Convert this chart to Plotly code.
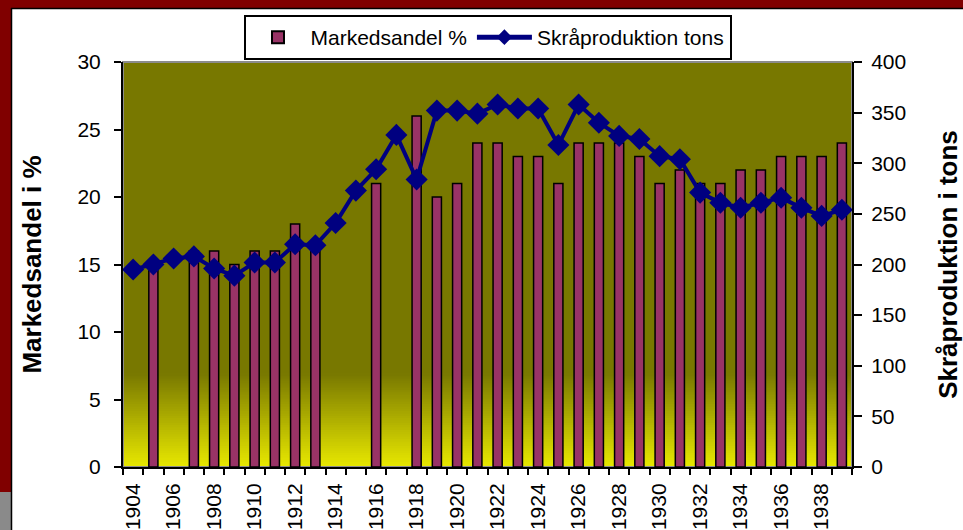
import plotly.graph_objects as go

years = [str(y) for y in range(1904, 1940)]
tick_labels = [y if int(y) % 2 == 0 else "" for y in years]
market_share = [None, 15, None, 16, 16, 15, 16, 16, 18, 16, None, None, 21, None, 26, 20,
                21, 24, 24, 23, 23, 21, 24, 24, 24, 23, 21, 22, 21, 21, 22, 22, 23, 23, 23, 24]
production = [195, 200, 206, 208, 196, 189, 202, 202, 220, 219, 241, 273, 294, 328, 284, 352,
              352, 349, 358, 354, 354, 318, 358, 340, 327, 324, 307, 304, 271, 261, 256, 261,
              266, 256, 248, 254]

FONT = "Liberation Sans, Arial, sans-serif"
W, H = 963, 530
L, R, T, B = 123, 111, 62, 63
PW, PH = W - L - R, H - T - B


def px(x):
    return (x - L) / PW


def py(y):
    return (H - B - y) / PH


fig = go.Figure()
fig.add_trace(go.Bar(
    x=years, y=market_share, name="Markedsandel %",
    marker=dict(color="#993366", line=dict(color="black", width=1.5)),
    yaxis="y", xaxis="x",
))
fig.add_trace(go.Scatter(
    x=years, y=production, name="Skråproduktion tons", mode="lines+markers",
    line=dict(color="#000080", width=4),
    marker=dict(symbol="diamond", size=17, color="#000080"),
    yaxis="y2", xaxis="x",
))

shapes = []
# plot-area gradient background (olive to yellow)
olive = (120, 120, 0)
yellow = (232, 232, 0)
shapes.append(dict(type="rect", xref="paper", yref="paper", x0=0, x1=1, y0=0, y1=1,
                   fillcolor="rgb(120,120,0)", line=dict(width=0), layer="below"))
N = 40
top = 0.23
for i in range(N):
    t0 = top * i / N
    t1 = top * (i + 1) / N + 0.002
    f = (i + 0.5) / N
    c = tuple(round(yellow[k] + (olive[k] - yellow[k]) * f) for k in range(3))
    shapes.append(dict(type="rect", xref="paper", yref="paper", x0=0, x1=1, y0=t0, y1=t1,
                       fillcolor="rgb(%d,%d,%d)" % c, line=dict(width=0), layer="below"))
# gray plot-area border
shapes.append(dict(type="rect", xref="paper", yref="paper", x0=0, x1=1, y0=0, y1=1,
                   line=dict(color="#8c8c8c", width=2), layer="below"))
# outer frame
shapes.append(dict(type="rect", xref="paper", yref="paper", x0=px(0), x1=px(W), y0=py(0), y1=py(8),
                   fillcolor="#800000", line=dict(width=0), layer="above"))
shapes.append(dict(type="rect", xref="paper", yref="paper", x0=px(0), x1=px(11), y0=py(0), y1=py(492),
                   fillcolor="#800000", line=dict(width=0), layer="above"))
shapes.append(dict(type="rect", xref="paper", yref="paper", x0=px(0), x1=px(11), y0=py(492), y1=py(H),
                   fillcolor="#8a8a8a", line=dict(width=0), layer="above"))
shapes.append(dict(type="line", xref="paper", yref="paper", x0=px(11.5), x1=px(11.5), y0=py(8), y1=py(H),
                   line=dict(color="black", width=1.5), layer="above"))
shapes.append(dict(type="line", xref="paper", yref="paper", x0=px(11), x1=px(W), y0=py(8.5), y1=py(8.5),
                   line=dict(color="black", width=1.5), layer="above"))

fig.update_layout(
    width=W, height=H,
    template="none",
    paper_bgcolor="white",
    plot_bgcolor="rgba(0,0,0,0)",
    margin=dict(l=L, r=R, t=T, b=B, pad=0),
    font=dict(family=FONT, size=21, color="black"),
    bargap=0.55,
    showlegend=True,
    legend=dict(orientation="h", x=0.5, xanchor="center", y=py(15), yanchor="top",
                bgcolor="white", bordercolor="black", borderwidth=2,
                font=dict(size=21, family=FONT), itemsizing="constant", itemwidth=55,
                traceorder="normal"),
    xaxis=dict(
        type="category", categoryorder="array", categoryarray=years,
        range=[-0.5, 35.5], tickmode="array", tickvals=years, ticktext=tick_labels,
        tickson="boundaries", ticks="outside", ticklen=6, tickwidth=2, tickcolor="black",
        tickangle=-90, ticklabelstandoff=6,
        showline=True, linecolor="black", linewidth=2, showgrid=False, zeroline=False,
        automargin=False, fixedrange=True,
    ),
    xaxis2=dict(
        overlaying="x", anchor="y", side="bottom", range=[-0.5, 35.5],
        tickmode="array", tickvals=[i - 0.5 for i in range(37)],
        ticks="inside", ticklen=5, tickwidth=2, tickcolor="black",
        showticklabels=False, showline=False, showgrid=False, zeroline=False, automargin=False,
    ),
    yaxis=dict(
        range=[0, 30], tickmode="linear", tick0=0, dtick=5,
        ticks="outside", ticklen=7, tickwidth=2, tickcolor="black", ticklabelstandoff=9,
        showline=True, linecolor="black", linewidth=2, showgrid=False, zeroline=False,
        title=dict(text="<b>Markedsandel i %</b>", font=dict(size=26), standoff=28),
        automargin=False,
    ),
    yaxis2=dict(
        overlaying="y", side="right", anchor="x", range=[0, 400], tickmode="linear", tick0=0, dtick=50,
        ticks="outside", ticklen=8, tickwidth=2, tickcolor="black", ticklabelstandoff=5,
        showline=True, linecolor="black", linewidth=2, showgrid=False, zeroline=False,
        title=dict(text="<b>Skråproduktion i tons</b>", font=dict(size=26), standoff=42),
        automargin=False,
    ),
    yaxis3=dict(
        overlaying="y", side="left", anchor="x", range=[0, 30], tickmode="linear", tick0=0, dtick=5,
        ticks="inside", ticklen=5, tickwidth=2, tickcolor="black",
        showticklabels=False, showline=False, showgrid=False, zeroline=False, automargin=False,
    ),
    yaxis4=dict(
        overlaying="y", side="right", anchor="x", range=[0, 400], tickmode="linear", tick0=0, dtick=50,
        ticks="inside", ticklen=6, tickwidth=2, tickcolor="black",
        showticklabels=False, showline=False, showgrid=False, zeroline=False, automargin=False,
    ),
    shapes=shapes,
)

fig.write_html("out.html", config={"displayModeBar": False},
               post_script="document.body.style.margin='0';document.body.style.overflow='hidden';")
